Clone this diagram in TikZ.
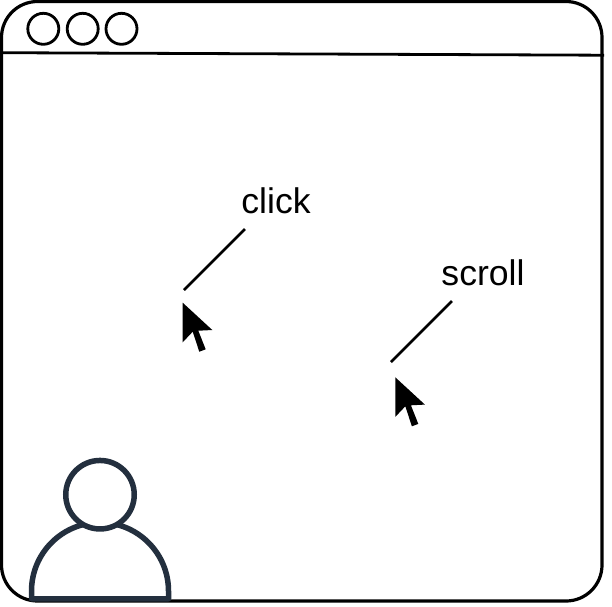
\documentclass[tikz,border=0pt]{standalone}
\usepackage{fontspec}
\setmainfont{Liberation Sans}
\definecolor{personcol}{HTML}{232F3E}
\tikzset{
  frameline/.style={draw=black,line width=3.2pt},
  dot/.style={circle,draw=black,fill=white,line width=2.8pt,minimum size=31pt,inner sep=0pt},
  pointer/.style={draw=black,line width=2.8pt},
  label/.style={inner sep=0pt,font=\fontsize{35.6}{42}\selectfont},
  arrowcursor/.pic={\fill[black] (0,0) -- (0,39.6) -- (10,29) -- (16.6,49) -- (23,46.6) -- (15.6,28) -- (29.6,27.3) -- cycle;},
  persona/.style={draw=personcol,line width=5.5pt},
}
\begin{document}
\begin{tikzpicture}[x=1pt,y=-1pt]
\useasboundingbox (0,0) rectangle (612,606);
\fill[white] (0,0) rectangle (612,606);
\draw[frameline,rounded corners=36pt] (1.5,1.5) rectangle (602,601);
\coordinate (barL) at (2,52.7);
\coordinate (barR) at (604,55.2);
\draw[frameline,line width=2.8pt] (barL) -- (barR);
\node[dot] (d1) at (43.3,28.8) {};
\node[dot] (d2) at (82.7,28.8) {};
\node[dot] (d3) at (121.5,28.8) {};
% person
\draw[persona,fill=white,line join=round] (31.5,598.8) -- (31.5,591) arc[start angle=180,end angle=360,radius=68.5] -- (168.5,598.8) -- cycle;
\node[circle,persona,fill=white,minimum size=68.5pt,inner sep=0pt] (head) at (100,494.7) {};
% labels
\node[label] (click) at (276,201) {click};
\node[label] (scroll) at (483,273) {scroll};
% pointers
\coordinate (c1) at (184,290);
\coordinate (c1e) at (245,229);
\coordinate (c2) at (391,362);
\coordinate (c2e) at (452,301);
\draw[pointer] (c1) -- (c1e);
\draw[pointer] (c2) -- (c2e);
\pic at (182.7,302.7) {arrowcursor};
\pic at (395.3,377.3) {arrowcursor};
\end{tikzpicture}
\end{document}
